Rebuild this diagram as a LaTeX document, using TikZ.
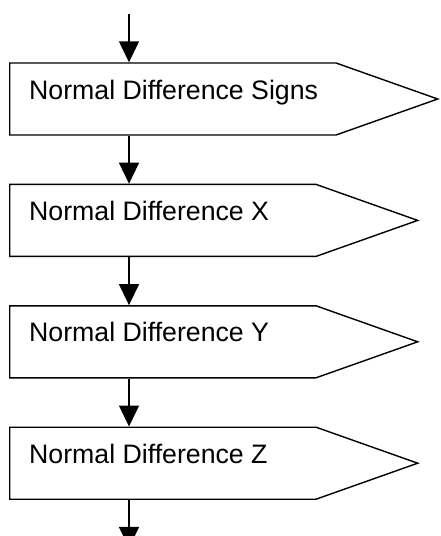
\documentclass[tikz,border=0pt]{standalone}
\usepackage{fontspec}
\setmainfont{Liberation Sans}
\usetikzlibrary{arrows.meta,positioning,shapes.symbols}

\begin{document}
\begin{tikzpicture}[x=1pt, y=1pt,
  box/.style={draw, line width=1.4pt, signal, signal to=east, signal pointer angle=39, minimum height=72pt, inner sep=0pt},
  lbl/.style={font=\fontsize{26.7}{31}\selectfont, inner sep=0pt, anchor=base west},
  arr/.style={-{Triangle[length=21pt,width=20pt]}, line width=1.4pt}
]
  \useasboundingbox (0,0) rectangle (440,-536);

  \node[box, minimum width=428pt, anchor=west] (signs) at (9,-99) {};
  \node[box, minimum width=408pt, below=48pt of signs.south west, anchor=north west] (diffx) {};
  \node[box, minimum width=408pt, below=48pt of diffx.south west, anchor=north west] (diffy) {};
  \node[box, minimum width=408pt, below=48pt of diffy.south west, anchor=north west] (diffz) {};

  \node[lbl] (signstxt) at ([xshift=20pt]signs.west) {Normal Difference Signs};
  \node[lbl] (diffxtxt) at ([xshift=20pt]diffx.west) {Normal Difference X};
  \node[lbl] (diffytxt) at ([xshift=20pt]diffy.west) {Normal Difference Y};
  \node[lbl] (diffztxt) at ([xshift=20pt]diffz.west) {Normal Difference Z};

  \coordinate[above=48pt of signs.north west, xshift=120pt] (start);
  \coordinate[below=48pt of diffz.south west, xshift=120pt] (finish);

  \draw[arr] (start) -- ([xshift=120pt]signs.north west);
  \draw[arr] ([xshift=120pt]signs.south west) -- ([xshift=120pt]diffx.north west);
  \draw[arr] ([xshift=120pt]diffx.south west) -- ([xshift=120pt]diffy.north west);
  \draw[arr] ([xshift=120pt]diffy.south west) -- ([xshift=120pt]diffz.north west);
  \draw[arr] ([xshift=120pt]diffz.south west) -- (finish);
\end{tikzpicture}
\end{document}
